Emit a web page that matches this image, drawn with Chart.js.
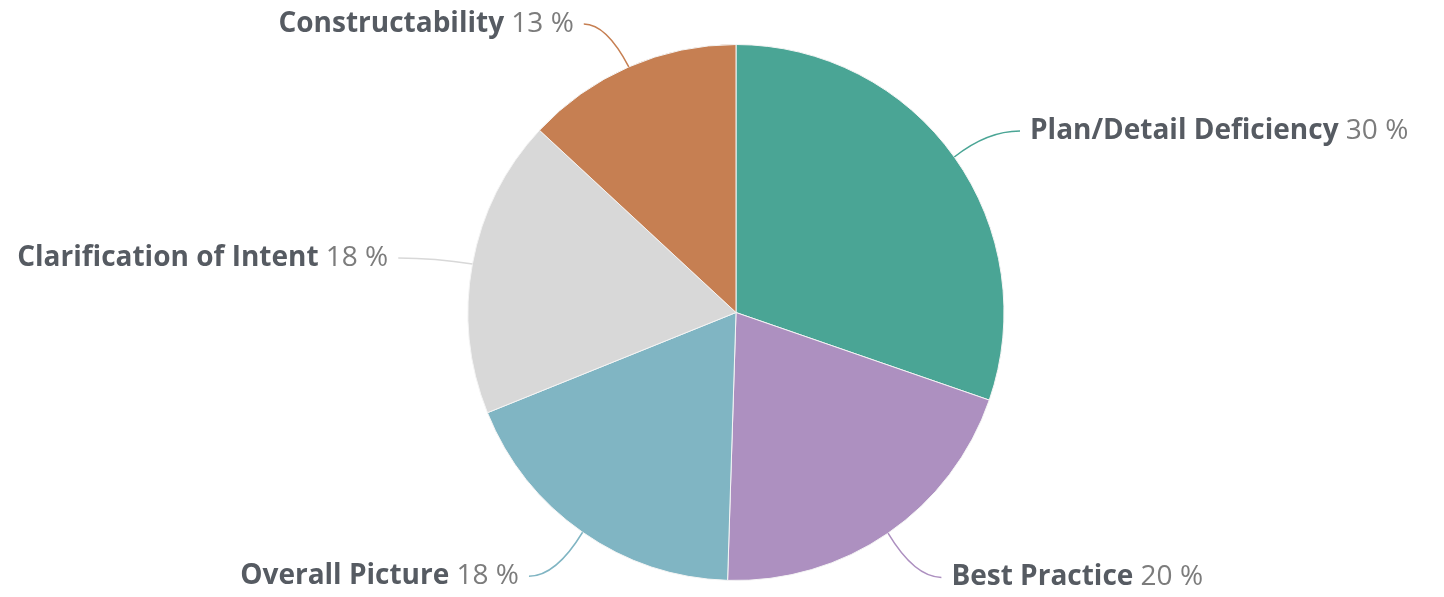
<!DOCTYPE html>
<html>
<head>
<meta charset="utf-8">
<script src="https://cdn.jsdelivr.net/npm/chart.js@4"></script>
<style>
  html, body { margin: 0; padding: 0; background: #fff; }
  #wrap { width: 1444px; height: 597px; }
</style>
</head>
<body>
<div id="wrap"><canvas id="pieChart" width="1444" height="597"></canvas></div>
<script>
// data, clockwise from 12 o'clock
var categories = ['Plan/Detail Deficiency', 'Best Practice', 'Overall Picture', 'Clarification of Intent', 'Constructability'];
var shares = [30.3, 20.2, 18.4, 18.0, 13.1];
var sliceColors = ['#4aa595', '#ad90c0', '#80b5c3', '#d8d8d8', '#c67f52'];

var labelFont = '"Open Sans", Lato, sans-serif';
var labelSize = 28;

var outsideLabels = {
  id: 'outsideLabels',
  afterDatasetsDraw: function(chart) {
    var ctx = chart.ctx;
    var meta = chart.getDatasetMeta(0);
    var data = chart.data.datasets[0].data;
    var total = 0;
    for (var j = 0; j < data.length; j++) {
      total += data[j];
    }
    for (var i = 0; i < meta.data.length; i++) {
      var arc = meta.data[i];
      var mid = (arc.startAngle + arc.endAngle) / 2;
      var dx = Math.cos(mid), dy = Math.sin(mid);
      var r = arc.outerRadius;
      var ex = arc.x + r * dx, ey = arc.y + r * dy;
      var right = dx >= 0;
      var ly = arc.y + (r + 50) * dy + 3;
      var lx = arc.x + (r + 50) * dx + (right ? 35 : -35);
      var endX = lx + (right ? -10 : 10);

      // connector
      ctx.save();
      ctx.strokeStyle = chart.data.datasets[0].backgroundColor[i];
      ctx.lineWidth = 1.5;
      ctx.beginPath();
      ctx.moveTo(ex, ey);
      ctx.quadraticCurveTo(ex + (endX - ex) * 0.5, ly, endX, ly);
      ctx.stroke();

      // label: bold name + percentage
      var name = chart.data.labels[i];
      var pct = ' ' + Math.round(data[i] / total * 100) + ' %';
      ctx.textBaseline = 'middle';
      ctx.font = 'bold ' + labelSize + 'px ' + labelFont;
      var wName = ctx.measureText(name).width;
      ctx.font = labelSize + 'px ' + labelFont;
      var wPct = ctx.measureText(pct).width;
      var x0 = right ? lx : lx - wName - wPct;
      ctx.textAlign = 'left';
      ctx.font = 'bold ' + labelSize + 'px ' + labelFont;
      ctx.fillStyle = '#565b62';
      ctx.fillText(name, x0, ly);
      ctx.font = labelSize + 'px ' + labelFont;
      ctx.fillStyle = '#7c7c7c';
      ctx.fillText(pct, x0 + wName, ly);
      ctx.restore();
    }
  }
};

new Chart(document.getElementById('pieChart').getContext('2d'), {
  type: 'pie',
  data: {
    labels: categories,
    datasets: [{
      data: shares,
      backgroundColor: sliceColors,
      borderColor: '#f4f4f4',
      borderWidth: 1
    }]
  },
  options: {
    responsive: false,
    animation: false,
    layout: { padding: { top: 44, bottom: 16, left: 28, right: 0 } },
    plugins: {
      legend: { display: false },
      tooltip: { enabled: false }
    }
  },
  plugins: [outsideLabels]
});
</script>
</body>
</html>
